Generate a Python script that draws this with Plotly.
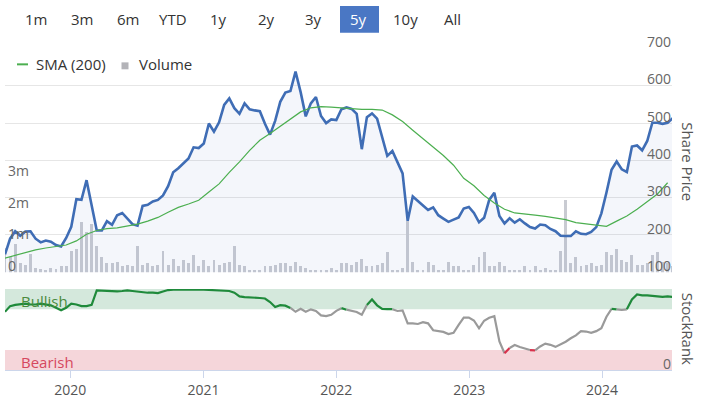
import pandas as pd
import plotly.graph_objects as go

# ---------------- data ----------------
START = "2019-07-06"
price = [148, 190, 210, 198, 209, 210, 190, 180, 185, 182,
         173, 169, 192, 222, 296, 294, 347, 281, 212, 212,
         237, 227, 253, 259, 243, 229, 225, 278, 281, 290,
         294, 306, 331, 368, 379, 391, 405, 435, 433, 445,
         499, 477, 502, 549, 566, 540, 525, 553, 537, 534,
         532, 498, 469, 506, 557, 582, 586, 638, 583, 518,
         553, 570, 519, 500, 510, 508, 537, 542, 538, 525,
         430, 516, 526, 512, 463, 412, 425, 396, 365, 238,
         303, 291, 278, 267, 274, 253, 244, 235, 241, 247,
         271, 275, 259, 234, 246, 294, 313, 251, 231, 245,
         233, 242, 231, 221, 217, 228, 226, 216, 210, 198,
         197, 197, 210, 203, 202, 208, 221, 258, 314, 375,
         397, 376, 369, 437, 440, 427, 452, 501, 501, 498,
         501, 513]

volume_m = [0.80, 0.50, 0.90, 0.30, 0.25, 0.60, 0.15, 0.12, 0.10, 0.15,
            0.12, 0.20, 0.20, 0.70, 0.75, 1.60, 1.30, 1.55, 0.85, 0.50,
            0.30, 0.30, 0.35, 0.20, 0.25, 0.20, 0.85, 0.25, 0.30, 0.20,
            0.25, 0.68, 0.25, 0.45, 0.20, 0.40, 0.30, 0.55, 0.20, 0.40,
            0.20, 0.40, 0.25, 0.30, 0.35, 0.85, 0.25, 0.20, 0.10, 0.10,
            0.10, 0.20, 0.20, 0.25, 0.30, 0.30, 0.20, 0.35, 0.20, 0.15,
            0.10, 0.10, 0.10, 0.10, 0.15, 0.10, 0.30, 0.30, 0.25, 0.35,
            0.45, 0.20, 0.20, 0.25, 0.30, 0.65, 0.10, 0.10, 0.15, 1.63,
            0.35, 0.10, 0.10, 0.35, 0.25, 0.10, 0.10, 0.35, 0.20, 0.20,
            0.10, 0.10, 0.25, 0.50, 0.65, 0.20, 0.20, 0.35, 0.20, 0.10,
            0.10, 0.10, 0.20, 0.10, 0.20, 0.10, 0.15, 0.10, 0.10, 0.70,
            2.30, 0.30, 0.50, 0.20, 0.25, 0.30, 0.20, 0.25, 0.65, 0.55,
            0.75, 0.40, 0.35, 0.55, 0.25, 0.25, 0.30, 0.55, 0.65, 0.35,
            0.30, 0.20]

stockrank = [72, 79, 80.5, 81, 82, 81, 81, 82, 81, 80,
             77, 74, 77, 82, 81, 79, 79, 80.5, 98.5, 98,
             97.6, 97.3, 97.2, 97.6, 98.4, 97.6, 96.7, 96, 95.5, 95.5,
             95, 97, 98.8, 99.3, 99.5, 99.6, 99.6, 99.6, 99.6, 99.3,
             98.8, 98.5, 98.2, 97.8, 97.6, 95.6, 91, 90.2, 90, 89.6,
             89, 88.4, 84, 78, 80.1, 79.6, 76.8, 72, 75.6, 72,
             75, 73, 67.6, 66.7, 68.3, 73.2, 76.5, 74.6, 73.4, 71.7,
             68.3, 80.5, 87.2, 80, 75.7, 75.2, 75.2, 73, 73.8, 57.7,
             57.7, 57, 59.2, 57.8, 49.3, 47.8, 47.2, 44.6, 46.1, 56,
             64.9, 65, 61.3, 51.6, 61, 64.6, 66.5, 35.4, 21, 27.4,
             31, 28.7, 27.2, 24.9, 24.4, 29.3, 32.8, 31.3, 28.8, 31.7,
             35.1, 39.4, 43, 48.3, 47.7, 46, 48.2, 51.8, 65.9, 75.6,
             75, 74.4, 75, 87.2, 93.3, 92.3, 92.3, 91.6, 90.9, 90.5,
             91.1, 90.2]

sma200 = [138, 146, 153, 160, 165, 169, 173, 184, 202, 212,
          217, 219, 224, 229, 237, 247, 261, 274, 283, 293,
          315, 337, 368, 396, 427, 454, 472, 492, 512, 530,
          541, 544, 543, 541, 538, 537, 537, 535, 522, 504,
          481, 458, 436, 413, 387, 352, 332, 306, 286, 269,
          259, 257, 253, 250, 246, 241, 233, 229, 225, 223,
          237, 251, 269, 289, 310, 340]

price_ticks = [100, 200, 300, 400, 500, 600, 700]
volume_ticks = [0, 1e6, 2e6, 3e6]
volume_tick_labels = ["0", "1m", "2m", "3m"]
rank_ticks = [0]
year_ticks = ["2020-01-01", "2021-01-01", "2022-01-01", "2023-01-01", "2024-01-01"]
year_labels = ["2020", "2021", "2022", "2023", "2024"]
range_buttons = ["1m", "3m", "6m", "YTD", "1y", "2y", "3y", "5y", "10y", "All"]
selected_button = "5y"
BULL, BEAR = 75, 25

dates = pd.date_range(START, periods=len(price), freq="14D")
sma_dates = pd.date_range(START, periods=len(sma200), freq="28D")
volume = [v * 1e6 for v in volume_m]

# ---------------- geometry helpers ----------------
W, H = 705, 399
def px(x):
    return x / W
def py(y):
    return 1 - y / H

FONT = "Open Sans"
BLUE = "#3f6db5"
GREEN_LINE = "#4caf50"
LABEL_UP = 7          # pixels the axis labels sit above their gridline
PRICE_RANGE = [100, 700]
VOL_RANGE = [0, 7.1e6]
RANK_RANGE = [0, 100]
TOP_PANEL = (49, 275)     # pixel rows (top, bottom)
RANK_PANEL = (292, 374)
X_LEFT, X_RIGHT = 5, 672

fig = go.Figure()

fig.add_trace(go.Bar(x=dates, y=volume, marker_color="#c9cbd2", marker_line_width=0,
                     width=8 * 86400000, yaxis="y", xaxis="x", hoverinfo="skip",
                     showlegend=False))
fig.add_trace(go.Scatter(x=dates, y=price, mode="lines", line=dict(color=BLUE, width=2.6),
                         fill="tozeroy", fillcolor="rgba(70,110,190,0.06)",
                         yaxis="y2", xaxis="x", showlegend=False))
fig.add_trace(go.Scatter(x=sma_dates, y=sma200, mode="lines",
                         line=dict(color=GREEN_LINE, width=1.2),
                         yaxis="y2", xaxis="x", showlegend=False))

def cls(a, b):
    m = (a + b) / 2
    if m >= BULL:
        return "bull"
    if m <= BEAR:
        return "bear"
    return "mid"

colors = {"bull": "#1f8a3b", "mid": "#9a9a9a", "bear": "#d8324c"}
runs = []
for k in range(len(stockrank) - 1):
    c = cls(stockrank[k], stockrank[k + 1])
    if runs and runs[-1][0] == c and runs[-1][2] == k:
        runs[-1][2] = k + 1
    else:
        runs.append([c, k, k + 1])
for c, a, b in runs:
    fig.add_trace(go.Scatter(x=dates[a:b + 1], y=stockrank[a:b + 1], mode="lines",
                             line=dict(color=colors[c], width=2.2),
                             yaxis="y3", xaxis="x2", showlegend=False))

xr = ["2019-07-06", "2024-07-11"]
xdom = [px(X_LEFT), px(X_RIGHT)]
top_dom = [py(TOP_PANEL[1]), py(TOP_PANEL[0])]
rank_dom = [py(RANK_PANEL[1]), py(RANK_PANEL[0])]
fig.update_layout(
    width=W, height=H, margin=dict(l=0, r=0, t=0, b=0),
    paper_bgcolor="white", plot_bgcolor="rgba(0,0,0,0)",
    font=dict(family=FONT, size=14, color="#666666"),
    showlegend=False, bargap=0,
    xaxis=dict(domain=xdom, range=xr, showticklabels=False, showgrid=False,
               zeroline=False, anchor="y"),
    xaxis2=dict(domain=xdom, range=xr, matches="x", anchor="y3", showgrid=False,
                tickvals=year_ticks, ticktext=year_labels, ticks="outside",
                ticklen=7, tickcolor="#ccd6eb", showline=True, linecolor="#ccd6eb",
                tickfont=dict(size=14, color="#555555"), zeroline=False),
    yaxis=dict(domain=top_dom, range=VOL_RANGE, side="left", tickvals=volume_ticks,
               showticklabels=False, showgrid=False, zeroline=False),
    yaxis2=dict(domain=top_dom, range=PRICE_RANGE, overlaying="y", side="right",
                anchor="x", tickvals=price_ticks, showticklabels=False,
                showgrid=True, gridcolor="#e6e6e6", zeroline=False),
    yaxis3=dict(domain=rank_dom, range=RANK_RANGE, side="right", anchor="x2",
                tickvals=[0, 100], showticklabels=False, showgrid=True,
                gridcolor="#e6e6e6", zeroline=False),
)

shapes = [
    dict(type="rect", xref="x2 domain", yref="y3", x0=0, x1=1, y0=BULL, y1=100,
         fillcolor="#d4e8dc", line_width=0, layer="below"),
    dict(type="rect", xref="x2 domain", yref="y3", x0=0, x1=1, y0=0, y1=BEAR,
         fillcolor="#f5d6da", line_width=0, layer="below"),
    dict(type="rect", xref="paper", yref="paper", x0=px(340), x1=px(379),
         y0=py(33), y1=py(6), fillcolor="#4a77c4", line_width=0),
    dict(type="line", xref="paper", yref="paper", x0=px(17), x1=px(28),
         y0=py(65), y1=py(65), line=dict(color=GREEN_LINE, width=2)),
    dict(type="rect", xref="paper", yref="paper", x0=px(121.5), x1=px(128.5),
         y0=py(70), y1=py(63), fillcolor="#b3b3b8", line_width=0),
]
fig.update_layout(shapes=shapes)

def value_to_row(v, rng, panel):
    top, bottom = panel
    return bottom - (v - rng[0]) / (rng[1] - rng[0]) * (bottom - top)

ann = []
tick_font = dict(size=14, color="#666666")
for v in price_ticks:
    ann.append(dict(text=str(v), x=px(X_RIGHT + 1),
                    y=py(value_to_row(v, PRICE_RANGE, TOP_PANEL) - LABEL_UP),
                    xref="paper", yref="paper", showarrow=False, xanchor="right",
                    yanchor="middle", font=tick_font))
for v, lab in zip(volume_ticks, volume_tick_labels):
    ann.append(dict(text=lab, x=px(X_LEFT + 1),
                    y=py(value_to_row(v, VOL_RANGE, TOP_PANEL) - LABEL_UP),
                    xref="paper", yref="paper", showarrow=False, xanchor="left",
                    yanchor="middle", font=tick_font))
for v in rank_ticks:
    ann.append(dict(text=str(v), x=px(X_RIGHT + 1),
                    y=py(value_to_row(v, RANK_RANGE, RANK_PANEL) - LABEL_UP),
                    xref="paper", yref="paper", showarrow=False, xanchor="right",
                    yanchor="middle", font=tick_font))

btn_x = [36, 82, 128, 173, 218, 266, 313, 359, 405, 452]
for lab, bx in zip(range_buttons, btn_x):
    ann.append(dict(text=lab, x=px(bx), y=py(19.5), xref="paper", yref="paper",
                    showarrow=False, xanchor="center", yanchor="middle",
                    font=dict(size=15, color="white" if lab == selected_button else "#333333")))
ann.append(dict(text="SMA (200)", x=px(34), y=py(65), xref="paper", yref="paper",
                showarrow=False, xanchor="left", yanchor="middle",
                font=dict(size=15, color="#333333")))
ann.append(dict(text="Volume", x=px(137), y=py(65), xref="paper", yref="paper",
                showarrow=False, xanchor="left", yanchor="middle",
                font=dict(size=15, color="#333333")))
ann.append(dict(text="Share Price", x=px(688), y=py(163), xref="paper", yref="paper",
                showarrow=False, textangle=90, xanchor="center", yanchor="middle",
                font=dict(size=15, color="#555555")))
ann.append(dict(text="StockRank", x=px(688), y=py(332), xref="paper", yref="paper",
                showarrow=False, textangle=90, xanchor="center", yanchor="middle",
                font=dict(size=15, color="#555555")))
ann.append(dict(text="Bullish", x=px(19), y=py(304), xref="paper", yref="paper",
                showarrow=False, xanchor="left", yanchor="middle",
                font=dict(size=15, color="#4a8a3c")))
ann.append(dict(text="Bearish", x=px(19), y=py(366), xref="paper", yref="paper",
                showarrow=False, xanchor="left", yanchor="middle",
                font=dict(size=15, color="#d6485e")))
fig.update_layout(annotations=ann)

fig.write_html("out.html", config={"displayModeBar": False},
               post_script="document.body.style.margin='0';document.body.style.padding='0';")
